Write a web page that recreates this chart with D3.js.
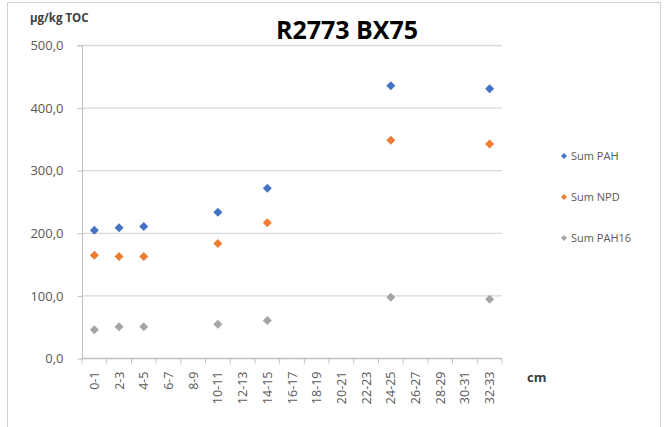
<!DOCTYPE html>
<html><head><meta charset="utf-8">
<script src="https://cdn.jsdelivr.net/npm/d3@7"></script>
<style>body{margin:0;background:#fff}svg{display:block}</style>
</head><body>
<svg id="c" width="667" height="427"></svg>
<script>
const categories = ["0-1","2-3","4-5","6-7","8-9","10-11","12-13","14-15","16-17","18-19","20-21","22-23","24-25","26-27","28-29","30-31","32-33"];
const seriesNames = ["Sum PAH","Sum NPD","Sum PAH16"];
const seriesColors = ["#4472C4","#ED7D31","#A5A5A5"];
const sumPAH   = [204,208,210,null,null,233,null,271,null,null,null,null,435,null,null,null,430];
const sumNPD   = [164,162,162,null,null,183,null,216,null,null,null,null,348,null,null,null,342];
const sumPAH16 = [45,50,50,null,null,54,null,60,null,null,null,null,97,null,null,null,94];
const yTicks = [0,100,200,300,400,500];
const title = "R2773 BX75";
const yUnit = "µg/kg TOC";
const xUnit = "cm";

const svg = d3.select("#c");
const font = "Open Sans, Liberation Sans, sans-serif";
// chart border
svg.append("rect").attr("x",7.5).attr("y",2.5).attr("width",653).attr("height",440)
  .attr("fill","none").attr("stroke","#d0d0d0");

const x = d3.scaleBand().domain(categories).range([82,502]);
const y = d3.scaleLinear().domain([0,500]).range([358,45]);

// gridlines
svg.append("g").selectAll("line").data(yTicks.filter(d=>d>0)).join("line")
  .attr("x1",82).attr("x2",502).attr("y1",d=>y(d)+0.5).attr("y2",d=>y(d)+0.5)
  .attr("stroke","#d9d9d9").attr("stroke-width",1.3);

// y axis
const yAxis = d3.axisLeft(y).tickValues(yTicks).tickSize(5).tickPadding(14)
  .tickFormat(d=>d3.format(".1f")(d).replace(".",","));
const gy = svg.append("g").attr("transform","translate(82.5,0.5)").call(yAxis);
gy.select(".domain").attr("stroke","#bfbfbf").attr("d","M-5,"+y(500)+"H0V"+y(0));
gy.selectAll(".tick line").attr("stroke","#bfbfbf");
gy.selectAll("text").attr("font-family",font).attr("font-size",13).attr("fill","#595959");

// x axis
const gx = svg.append("g").attr("transform","translate(0,358.5)");
gx.append("line").attr("x1",82).attr("x2",502).attr("stroke","#bfbfbf").attr("stroke-width",1.3);
const bounds = categories.map(c=>x(c)).concat([x.range()[1]]);
gx.selectAll("line.t").data(bounds).join("line").attr("class","t")
  .attr("x1",d=>d).attr("x2",d=>d).attr("y1",0).attr("y2",5).attr("stroke","#bfbfbf");
gx.selectAll("text").data(categories).join("text")
  .attr("transform",d=>`translate(${x(d)+x.bandwidth()/2+4.5},13) rotate(-90)`)
  .attr("text-anchor","end").attr("font-family",font).attr("font-size",12.5).attr("fill","#595959")
  .text(d=>d);

// series
const all = [sumPAH,sumNPD,sumPAH16];
all.forEach((vals,i)=>{
  svg.append("g").selectAll("path").data(categories.map((c,j)=>({c,v:vals[j]})).filter(d=>d.v!=null))
    .join("path")
    .attr("d",d=>{const cx=x(d.c)+x.bandwidth()/2, cy=y(d.v), r=4.5;
      return `M${cx},${cy-r}L${cx+r},${cy}L${cx},${cy+r}L${cx-r},${cy}Z`;})
    .attr("fill",seriesColors[i]);
});

// legend
const lg = svg.append("g");
seriesNames.forEach((n,i)=>{
  const ly = 156 + i*41;
  lg.append("path").attr("d",`M564,${ly-3}L567,${ly}L564,${ly+3}L561,${ly}Z`).attr("fill",seriesColors[i]);
  lg.append("text").attr("x",571).attr("y",ly+4).attr("font-family",font).attr("font-size",11)
    .attr("fill","#595959").text(n);
});

// titles
svg.append("text").attr("x",347).attr("y",39).attr("text-anchor","middle")
  .attr("font-family",font).attr("font-weight","bold").attr("font-size",25).attr("fill","#000").text(title);
svg.append("text").attr("x",30).attr("y",22).attr("font-family",font).attr("font-weight","bold")
  .attr("font-size",11.5).attr("fill","#404040").text(yUnit);
svg.append("text").attr("x",527).attr("y",382).attr("font-family",font).attr("font-weight","bold")
  .attr("font-size",13).attr("fill","#404040").text(xUnit);
</script>
</body></html>
